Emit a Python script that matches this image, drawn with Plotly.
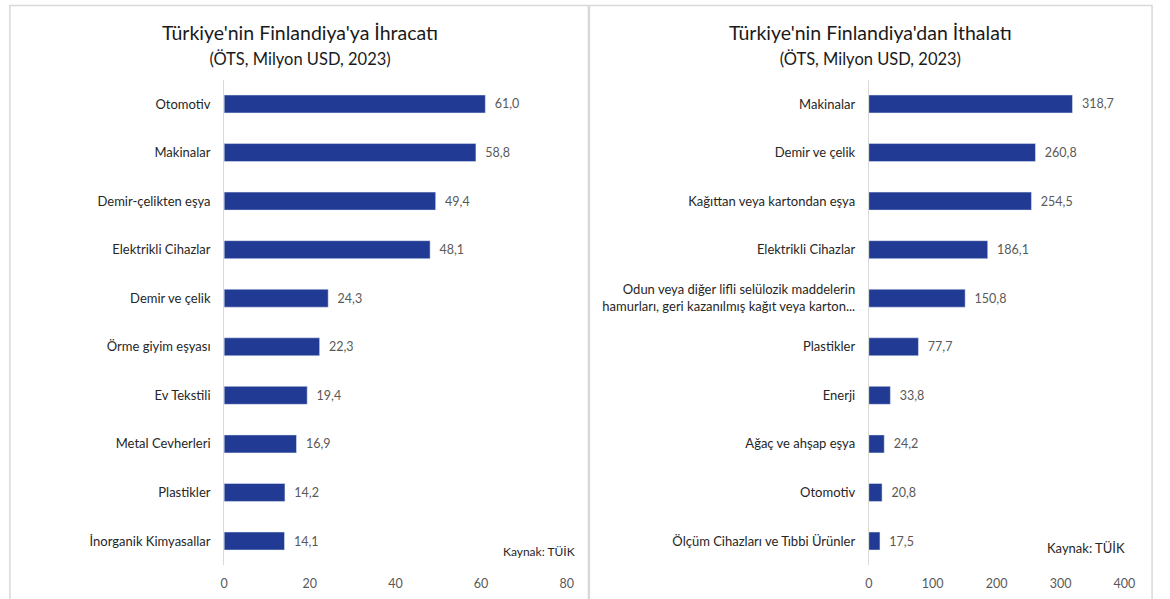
import plotly.graph_objects as go
from plotly.subplots import make_subplots

exp_categories = ["Otomotiv", "Makinalar", "Demir-çelikten eşya", "Elektrikli Cihazlar",
                  "Demir ve çelik", "Örme giyim eşyası", "Ev Tekstili", "Metal Cevherleri",
                  "Plastikler", "İnorganik Kimyasallar"]
exp_values = [61.0, 58.8, 49.4, 48.1, 24.3, 22.3, 19.4, 16.9, 14.2, 14.1]

imp_categories = ["Makinalar", "Demir ve çelik", "Kağıttan veya kartondan eşya", "Elektrikli Cihazlar",
                  "Odun veya diğer lifli selülozik maddelerin<br>hamurları, geri kazanılmış kağıt veya karton...",
                  "Plastikler", "Enerji", "Ağaç ve ahşap eşya", "Otomotiv",
                  "Ölçüm Cihazları ve Tıbbi Ürünler"]
imp_values = [318.7, 260.8, 254.5, 186.1, 150.8, 77.7, 33.8, 24.2, 20.8, 17.5]

exp_ticks = [0, 20, 40, 60, 80]
imp_ticks = [0, 100, 200, 300, 400]

titles = ["Türkiye'nin Finlandiya'ya İhracatı<br><span style='font-size:16.5px'>(ÖTS, Milyon USD, 2023)</span>",
          "Türkiye'nin Finlandiya'dan İthalatı<br><span style='font-size:16.5px'>(ÖTS, Milyon USD, 2023)</span>"]

BAR = "#213A93"
GRAY = "#595959"
FONT = "Lato"
W, H = 1170, 599


def fmt(v):
    return f"{v:.1f}".replace(".", ",")


fig = make_subplots(rows=1, cols=2)

fig.add_trace(go.Bar(x=exp_values, y=exp_categories, orientation="h", marker_color=BAR,
                     width=0.37, text=[fmt(v) for v in exp_values], texttemplate="  %{text}",
                     textposition="outside",
                     textfont=dict(size=12.5, color=GRAY, family=FONT), cliponaxis=False,
                     showlegend=False), row=1, col=1)
fig.add_trace(go.Bar(x=imp_values, y=imp_categories, orientation="h", marker_color=BAR,
                     width=0.37, text=[fmt(v) for v in imp_values], texttemplate="  %{text}",
                     textposition="outside",
                     textfont=dict(size=12.5, color=GRAY, family=FONT), cliponaxis=False,
                     showlegend=False), row=1, col=2)

ydom = [(H - 565.3) / H, (H - 79.7) / H]
common_x = dict(showgrid=False, zeroline=False, showline=False, ticks="",
                tickfont=dict(size=12.5, color=GRAY, family=FONT), ticklabelstandoff=9)
common_y = dict(autorange="reversed", showgrid=False, showline=True, linecolor="#d9d9d9",
                linewidth=1, ticks="", tickfont=dict(size=13, color="#262626", family=FONT),
                ticklabelstandoff=10, domain=ydom)

fig.update_xaxes(range=[0, 80], tickvals=exp_ticks, domain=[223 / W, 570 / W], **common_x, row=1, col=1)
fig.update_xaxes(range=[0, 400], tickvals=imp_ticks, domain=[876 / W, 1135 / W], **common_x, row=1, col=2)
fig.update_yaxes(**common_y, row=1, col=1)
fig.update_yaxes(**common_y, row=1, col=2)

# panel borders
for x0, x1 in [(6, 592), (593, 1163)]:
    fig.add_shape(type="rect", xref="paper", yref="paper", x0=x0 / W, x1=x1 / W,
                  y0=-0.05, y1=(H - 5.5) / H, line=dict(color="#d9d9d9", width=1.5),
                  fillcolor="rgba(0,0,0,0)", layer="below")

# titles
for title, xc in zip(titles, [300, 878]):
    fig.add_annotation(text=title, xref="paper", yref="paper", x=xc / W, y=(H - 19) / H,
                       xanchor="center", yanchor="top", showarrow=False,
                       font=dict(size=19.5, color="#1a1a1a", family=FONT), align="center")

fig.add_annotation(text="Kaynak: TÜİK", xref="paper", yref="paper", x=580 / W, y=(H - 551) / H,
                   xanchor="right", yanchor="middle", showarrow=False,
                   font=dict(size=12, color="#262626", family=FONT))
fig.add_annotation(text="Kaynak: TÜİK", xref="paper", yref="paper", x=1138 / W, y=(H - 548) / H,
                   xanchor="right", yanchor="middle", showarrow=False,
                   font=dict(size=13, color="#262626", family=FONT))

fig.update_layout(width=W, height=H, margin=dict(l=0, r=0, t=0, b=0), autosize=False,
                  paper_bgcolor="white", plot_bgcolor="white",
                  font=dict(family=FONT), bargap=0.6)

post = ("document.body.style.margin='0';document.body.style.overflow='hidden';"
        "document.documentElement.style.overflow='hidden';")

fig.write_html("out.html", config={"displayModeBar": False, "responsive": False},
               post_script=post)
